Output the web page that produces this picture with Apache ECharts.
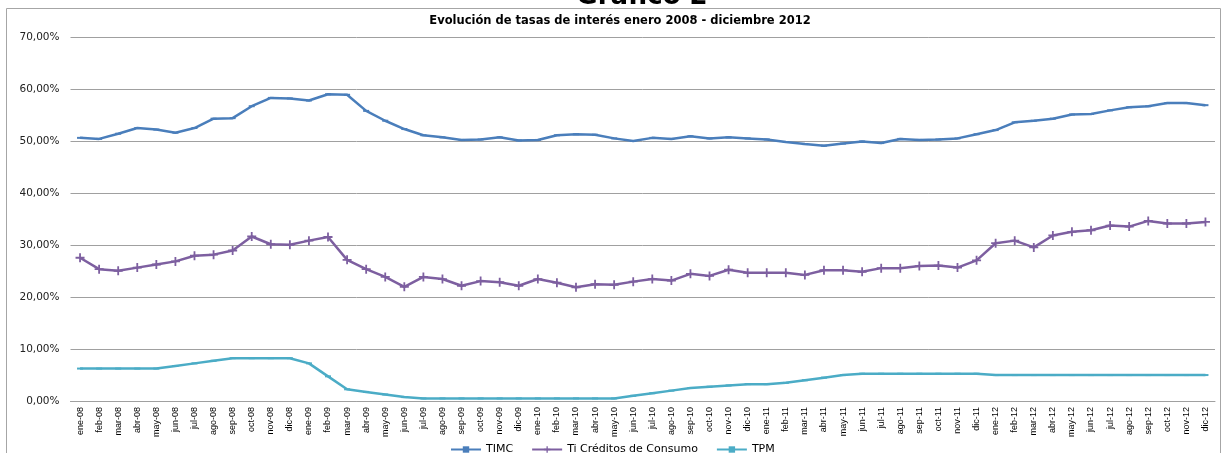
<!DOCTYPE html>
<html><head><meta charset="utf-8">
<script src="https://cdn.jsdelivr.net/npm/echarts@6/dist/echarts.min.js"></script>
<style>html,body{margin:0;padding:0;background:#fff}#c{width:1223px;height:453px}</style>
</head><body><div id="c"></div>
<script>
const categories = ["ene-08","feb-08","mar-08","abr-08","may-08","jun-08","jul-08","ago-08","sep-08","oct-08","nov-08","dic-08",
"ene-09","feb-09","mar-09","abr-09","may-09","jun-09","jul-09","ago-09","sep-09","oct-09","nov-09","dic-09",
"ene-10","feb-10","mar-10","abr-10","may-10","jun-10","jul-10","ago-10","sep-10","oct-10","nov-10","dic-10",
"ene-11","feb-11","mar-11","abr-11","may-11","jun-11","jul-11","ago-11","sep-11","oct-11","nov-11","dic-11",
"ene-12","feb-12","mar-12","abr-12","may-12","jun-12","jul-12","ago-12","sep-12","oct-12","nov-12","dic-12"];
const timc = [50.7,50.5,51.5,52.6,52.3,51.7,52.6,54.4,54.5,56.8,58.4,58.3,
57.9,59.1,59.0,55.9,54.0,52.4,51.2,50.8,50.3,50.4,50.8,50.2,
50.3,51.2,51.4,51.3,50.6,50.1,50.7,50.5,51.0,50.6,50.8,50.6,
50.4,49.9,49.5,49.2,49.6,50.0,49.7,50.5,50.3,50.4,50.6,51.4,
52.2,53.7,54.0,54.4,55.2,55.3,56.0,56.6,56.8,57.4,57.4,57.0];
const tiConsumo = [27.6,25.4,25.1,25.7,26.3,26.9,28.0,28.2,29.0,31.7,30.2,30.1,
30.9,31.6,27.2,25.4,23.9,22.0,23.9,23.5,22.2,23.1,22.9,22.2,
23.5,22.8,21.9,22.5,22.4,23.0,23.5,23.2,24.5,24.1,25.3,24.7,
24.7,24.7,24.3,25.2,25.2,24.9,25.6,25.6,26.0,26.1,25.7,27.1,
30.4,30.9,29.6,31.9,32.6,32.9,33.8,33.6,34.7,34.2,34.2,34.5];
const tpm = [6.25,6.25,6.25,6.25,6.25,6.75,7.25,7.75,8.25,8.25,8.25,8.25,
7.25,4.75,2.25,1.75,1.25,0.75,0.5,0.5,0.5,0.5,0.5,0.5,
0.5,0.5,0.5,0.5,0.5,1.0,1.5,2.0,2.5,2.75,3.0,3.25,
3.25,3.5,4.0,4.5,5.0,5.25,5.25,5.25,5.25,5.25,5.25,5.25,
5.0,5.0,5.0,5.0,5.0,5.0,5.0,5.0,5.0,5.0,5.0,5.0];
const seriesNames = ["TIMC","Ti Créditos de Consumo","TPM"];
const colors = ["#4A7EBB","#7D5FA0","#4BACC6"];

const chart = echarts.init(document.getElementById('c'), null, {renderer:'canvas'});
const plus = 'path://M4,0h2v4h4v2h-4v4h-2v-4h-4v-2h4z';
chart.setOption({
  animation:false,
  color: colors,
  graphic:[
    {type:'rect', shape:{x:6.5,y:8.5,width:1214,height:460}, style:{fill:'none',stroke:'#a6a6a6',lineWidth:1}, z:0},
    {type:'text', x:642, y:10, z:10, style:{text:'Gráfico 2', font:'bold 26px "DejaVu Sans"', fill:'#000', textAlign:'center', textVerticalAlign:'bottom'}},
    {type:'text', x:620, y:21, style:{text:'Evolución de tasas de interés enero 2008 - diciembre 2012', font:'bold 11.5px "DejaVu Sans"', fill:'#000', textAlign:'center', textVerticalAlign:'middle'}}
  ],
  grid:{left:70.5, right:8, top:37.7, bottom:52, containLabel:false},
  legend:{
    left:445, top:439, itemGap:18, itemWidth:30, itemHeight:8,
    textStyle:{fontFamily:'DejaVu Sans', fontSize:11, color:'#000'},
    data:seriesNames
  },
  xAxis:{
    type:'category', data:categories, boundaryGap:true,
    axisLine:{lineStyle:{color:'#a0a0a0',width:1}},
    axisTick:{show:false},
    axisLabel:{interval:0, rotate:90, fontSize:9, fontFamily:'Liberation Sans', color:'#000', margin:6}
  },
  yAxis:{
    type:'value', min:0, max:70, interval:10,
    axisLine:{show:false}, axisTick:{show:false},
    splitLine:{lineStyle:{color:'#a0a0a0',width:1}},
    axisLabel:{fontSize:10.5, fontFamily:'DejaVu Sans', color:'#222', margin:11,
      formatter:v=>v.toFixed(2).replace('.',',')+'%'}
  },
  series:[
    {name:seriesNames[0], type:'line', data:timc, symbol:'rect', symbolSize:[6,2], lineStyle:{width:2.5,color:colors[0]}, itemStyle:{color:colors[0]}},
    {name:seriesNames[1], type:'line', data:tiConsumo, symbol:plus, symbolSize:9, lineStyle:{width:2.5,color:colors[1]}, itemStyle:{color:colors[1]}},
    {name:seriesNames[2], type:'line', data:tpm, symbol:'rect', symbolSize:[6,2], lineStyle:{width:2.5,color:colors[2]}, itemStyle:{color:colors[2]}}
  ]
});
</script></body></html>
